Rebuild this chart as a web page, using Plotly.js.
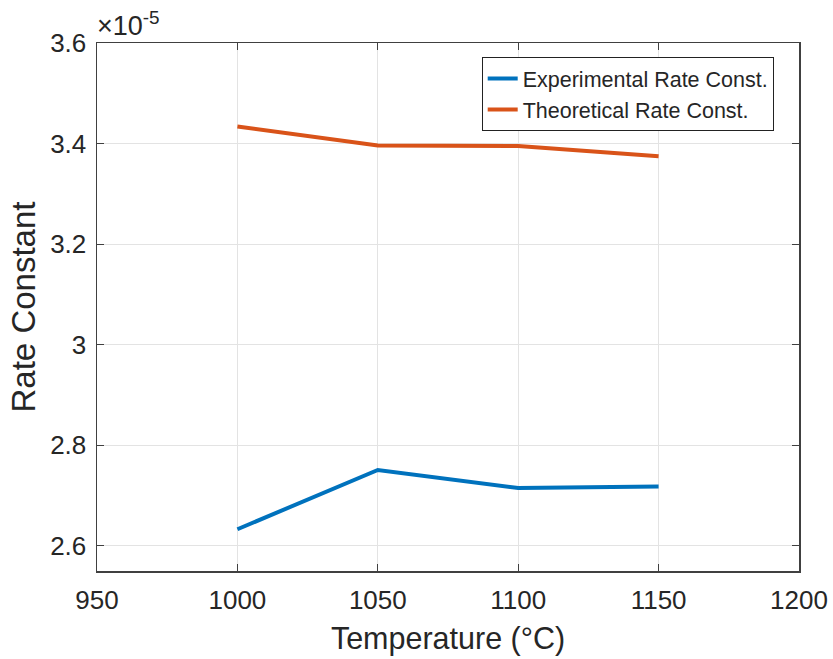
<!DOCTYPE html>
<html>
<head>
<meta charset="utf-8">
<script src="https://cdn.plot.ly/plotly-3.0.1.min.js"></script>
<style>html,body{margin:0;padding:0;background:#fff;}#chart{width:833px;height:659px;}</style>
</head>
<body>
<div id="chart"></div>
<script>
// Temperatures (°C)
const temperature = [1000, 1050, 1100, 1150];
// Rate constants in units of 1e-5
const experimentalRate = [2.633, 2.751, 2.715, 2.718];
const theoreticalRate = [3.434, 3.396, 3.395, 3.375];
const xTickVals = [950, 1000, 1050, 1100, 1150, 1200];
const yTickVals = [2.6, 2.8, 3.0, 3.2, 3.4, 3.6];
const yTickText = ['2.6', '2.8', '3', '3.2', '3.4', '3.6'];

const font = 'Liberation Sans, Arial, Helvetica, sans-serif';

const traces = [
  {x: temperature, y: experimentalRate, type: 'scatter', mode: 'lines',
   name: 'Experimental Rate Const.', line: {color: '#0072BD', width: 4}},
  {x: temperature, y: theoreticalRate, type: 'scatter', mode: 'lines',
   name: 'Theoretical Rate Const.', line: {color: '#D95319', width: 4}}
];

const axisCommon = {
  showgrid: true, gridcolor: '#e3e3e3', gridwidth: 1,
  showline: true, linecolor: '#404040', linewidth: 1.5, mirror: 'ticks',
  ticks: 'inside', ticklen: 7, tickcolor: '#404040', tickwidth: 1,
  zeroline: false, tickfont: {family: font, size: 26, color: '#262626'}
};

const layout = {
  width: 833, height: 659,
  margin: {l: 97, r: 34, t: 43, b: 88},
  paper_bgcolor: '#ffffff', plot_bgcolor: '#ffffff',
  showlegend: true,
  legend: {x: 0.548, y: 0.9735, xanchor: 'left', yanchor: 'top',
           bgcolor: '#ffffff', bordercolor: '#222222', borderwidth: 1,
           font: {family: font, size: 21.5, color: '#262626'},
           tracegroupgap: 0, itemwidth: 30},
  xaxis: Object.assign({}, axisCommon, {
    range: [950, 1200], tickvals: xTickVals, ticklabelstandoff: 5,
    title: {text: 'Temperature (°C)', font: {family: font, size: 30.5, color: '#262626'}, standoff: 14}
  }),
  yaxis: Object.assign({}, axisCommon, {
    range: [2.55, 3.6], tickvals: yTickVals, ticktext: yTickText, ticklabelstandoff: 4,
    title: {text: 'Rate Constant', font: {family: font, size: 33, color: '#262626'}, standoff: 4}
  }),
  annotations: [{
    xref: 'paper', yref: 'paper', x: 0, y: 1, xanchor: 'left', yanchor: 'bottom',
    text: '×10<sup>-5</sup>', showarrow: false, yshift: 0, xshift: -2,
    font: {family: font, size: 27, color: '#262626'}
  }]
};

Plotly.newPlot('chart', traces, layout, {displayModeBar: false, staticPlot: true});
</script>
</body>
</html>
